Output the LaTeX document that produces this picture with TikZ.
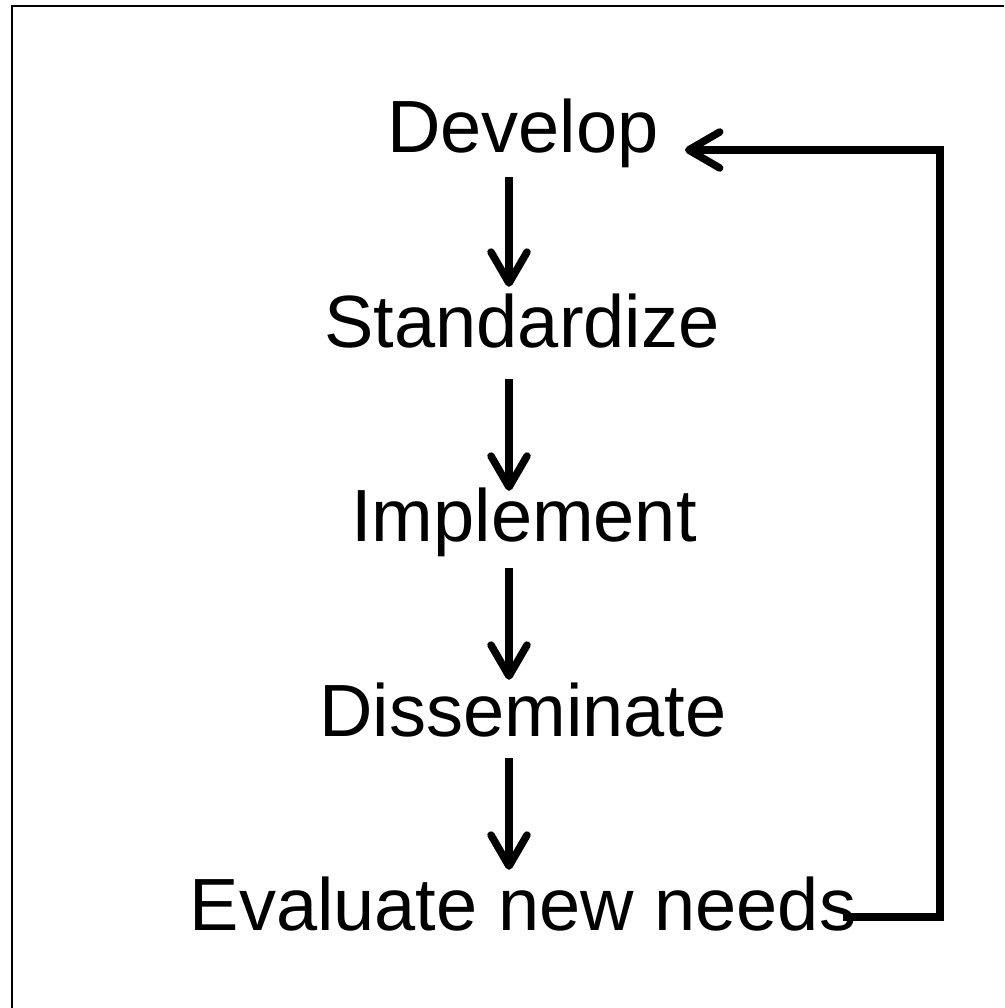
\documentclass[tikz,border=0pt]{standalone}
\usepackage{fontspec}
\setmainfont{Liberation Sans}
\usetikzlibrary{arrows.meta,calc}
\begin{document}
\begin{tikzpicture}[x=1pt,y=-1pt,
  lbl/.style={inner sep=0pt, anchor=base, text height=54pt, text depth=16pt,
    font=\fontsize{74}{80}\selectfont},
  arr/.style={line width=7.5pt, -{Straight Barb[length=31pt,width=36pt,round]}},
  frame/.style={line width=2pt}]
\useasboundingbox (0,0) rectangle (1004,1008);
\draw[frame] (12,1008) -- (12,6) -- (1004,6);
\node[lbl] (dev) at (523,153) {Develop};
\node[lbl] (std) at (522,347) {Standardize};
\node[lbl] (imp) at (524,541) {Implement};
\node[lbl] (dis) at (523,736) {Disseminate};
\node[lbl] (ev)  at (523,930) {Evaluate new needs};
\coordinate (ax) at (509,0);
\coordinate (rc) at (940,150);
\draw[arr] ($(dev.south -| ax)+(0,8)$)  -- ($(std.north -| ax)+(0,-6)$);
\draw[arr] ($(std.south -| ax)+(0,16)$) -- ($(imp.north -| ax)+(0,4)$);
\draw[arr] ($(imp.south -| ax)+(0,11)$) -- ($(dis.north -| ax)+(0,-2)$);
\draw[arr] ($(dis.south -| ax)+(0,6)$)  -- ($(ev.north -| ax)+(0,-6)$);
\draw[arr] ($(ev.base east)+(-13,-13)$) -| (rc) -- ($(dev.base east)+(26,-3)$);
\end{tikzpicture}
\end{document}
